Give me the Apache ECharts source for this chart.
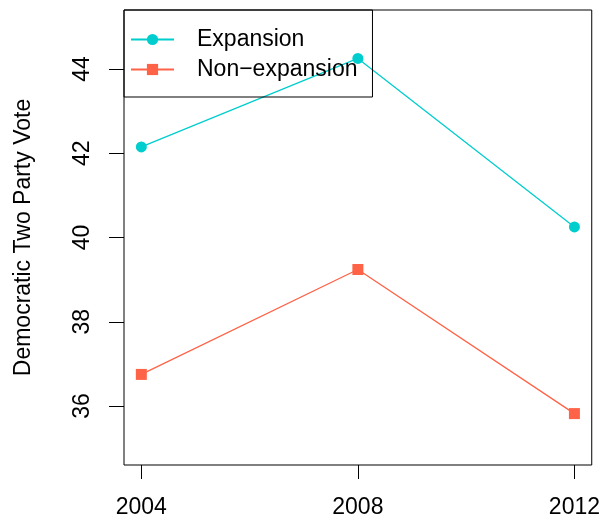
<!DOCTYPE html>
<html>
<head>
<meta charset="utf-8">
<script src="https://cdn.jsdelivr.net/npm/echarts@6/dist/echarts.min.js"></script>
<style>html,body{margin:0;padding:0;background:#fff}#c{width:603px;height:521px}</style>
</head>
<body>
<div id="c"></div>
<script>
const years = [2004, 2008, 2012];
const expansion = [42.15, 44.25, 40.25];
const nonExpansion = [36.75, 39.24, 35.82];
const yTicks = [36, 38, 40, 42, 44];
const xTicks = [2004, 2008, 2012];
const seriesNames = ['Expansion', 'Non\u2212expansion'];

const font = 'Liberation Sans, Arial, Helvetica, sans-serif';
const chart = echarts.init(document.getElementById('c'), null, {renderer: 'canvas'});
chart.setOption({
  backgroundColor: '#fff',
  animation: false,
  grid: {left: 124, right: 10, top: 10, bottom: 56, show: true, borderColor: '#000', borderWidth: 1, backgroundColor: 'transparent'},
  legend: {
    orient: 'vertical', left: 124, top: 10,
    padding: [18, 15, 16, 6],
    borderColor: '#000', borderWidth: 1, borderRadius: 0,
    backgroundColor: 'transparent',
    itemWidth: 43, itemHeight: 14, itemGap: 7,
    textStyle: {fontFamily: font, fontSize: 23, color: '#000', lineHeight: 22, padding: [0, 0, 0, 18]},
    data: seriesNames
  },
  xAxis: {
    type: 'value', min: 2003.68, max: 2012.32,
    axisLine: {show: false},
    splitLine: {show: false},
    axisTick: {show: true, length: 14, lineStyle: {color: '#000'}, customValues: xTicks},
    axisLabel: {fontFamily: font, fontSize: 23, color: '#000', margin: 32, lineHeight: 22, customValues: xTicks, formatter: v => String(v)}
  },
  yAxis: {
    type: 'value', min: 34.6, max: 45.4,
    name: 'Democratic Two Party Vote', nameLocation: 'middle', nameRotate: 90, nameGap: 89,
    nameTextStyle: {fontFamily: font, fontSize: 23, color: '#000', lineHeight: 22},
    axisLine: {show: false},
    splitLine: {show: false},
    axisTick: {show: true, length: 15, lineStyle: {color: '#000'}, customValues: yTicks},
    axisLabel: {fontFamily: font, fontSize: 23, color: '#000', rotate: 90, margin: 30, lineHeight: 22, customValues: yTicks, formatter: v => String(v)}
  },
  series: [
    {
      name: seriesNames[0], type: 'line', symbol: 'circle', symbolSize: 11,
      data: years.map((y, i) => [y, expansion[i]]),
      lineStyle: {color: '#00CDCD', width: 1.3},
      itemStyle: {color: '#00CDCD', borderWidth: 0}
    },
    {
      name: seriesNames[1], type: 'line', symbol: 'rect', symbolSize: 11,
      data: years.map((y, i) => [y, nonExpansion[i]]),
      lineStyle: {color: '#FF6347', width: 1.3},
      itemStyle: {color: '#FF6347', borderWidth: 0}
    }
  ]
});
</script>
</body>
</html>
